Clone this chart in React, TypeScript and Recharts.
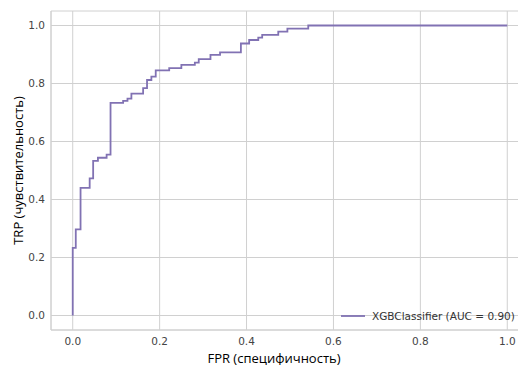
import React from "react";
import { LineChart, Line, XAxis, YAxis, CartesianGrid } from "recharts";

// ROC curve corner points (top of each vertical jump), step-after
const fpr = [0, 0, 0.007, 0.018, 0.039, 0.047, 0.058, 0.078, 0.087, 0.116, 0.126, 0.135, 0.162, 0.171, 0.181, 0.191, 0.222, 0.25, 0.281, 0.29, 0.317, 0.339, 0.387, 0.406, 0.427, 0.436, 0.473, 0.494, 0.542, 1.0];
const tpr = [0, 0.233, 0.297, 0.44, 0.473, 0.533, 0.544, 0.555, 0.733, 0.74, 0.748, 0.765, 0.784, 0.812, 0.824, 0.845, 0.853, 0.864, 0.872, 0.884, 0.899, 0.907, 0.938, 0.95, 0.958, 0.968, 0.979, 0.989, 1.0, 1.0];
const ticks = [0, 0.2, 0.4, 0.6, 0.8, 1.0];
const seriesName = "XGBClassifier (AUC = 0.90)";
const xLabel = "FPR (специфичность)";
const yLabel = "TRP (чувствительность)";

const data = fpr.map((f, i) => ({ fpr: f, tpr: tpr[i] }));

const LINE = "#8172B3";
const GRID = "#d0d0d0";
const TICK = { fill: "#444", fontSize: 10.5, fontFamily: "DejaVu Sans" };
const LABEL_FONT = "'Open Sans', 'Noto Sans', sans-serif";

export default function App() {
  return (
    <div style={{ position: "fixed", left: 0, top: 0, width: 518, height: 365, overflow: "hidden", background: "#fff" }}>
      <div style={{ position: "absolute", left: 0, top: 0 }}>
        <LineChart width={560} height={365} data={data} margin={{ top: 11, right: 31, left: 7, bottom: 0 }}>
          <CartesianGrid stroke={GRID} strokeWidth={1} />
          <XAxis
            dataKey="fpr"
            type="number"
            domain={[-0.05, 1.05]}
            ticks={ticks}
            allowDataOverflow
            tickFormatter={(v: number) => v.toFixed(1)}
            tick={TICK}
            tickLine={false}
            tickSize={0}
            tickMargin={8}
            height={35}
            axisLine={{ stroke: GRID }}
            label={(p: any) => {
              const vb = p.viewBox || {};
              return (
                <text x={vb.x + vb.width / 2 - 16} y={362.5} textAnchor="middle" fontFamily={LABEL_FONT} fontSize={13} fill="#000">
                  {xLabel}
                </text>
              );
            }}
          />
          <XAxis xAxisId="top" orientation="top" type="number" domain={[-0.05, 1.05]} tick={false} tickLine={false} height={0} axisLine={{ stroke: GRID }} />
          <YAxis
            type="number"
            domain={[-0.05, 1.05]}
            ticks={ticks}
            allowDataOverflow
            tickFormatter={(v: number) => v.toFixed(1)}
            tick={TICK}
            tickLine={false}
            tickSize={0}
            tickMargin={6}
            width={44}
            axisLine={{ stroke: GRID }}
            label={(p: any) => {
              const vb = p.viewBox || {};
              const cy = vb.y + vb.height / 2;
              return (
                <text x={18} y={cy} transform={`rotate(-90, 18, ${cy})`} textAnchor="middle" dominantBaseline="central" fontFamily={LABEL_FONT} fontSize={13} fill="#000">
                  {yLabel}
                </text>
              );
            }}
          />
          <Line dataKey="tpr" type="stepAfter" stroke={LINE} strokeWidth={1.8} dot={false} isAnimationActive={false} />
        </LineChart>
      </div>
      <div style={{ position: "absolute", left: 341, top: 309, display: "flex", alignItems: "center", fontFamily: "DejaVu Sans", fontSize: 10.5, color: "#333", whiteSpace: "nowrap" }}>
        <svg width={24} height={14} style={{ display: "block" }}>
          <line x1={0} y1={7} x2={24} y2={7} stroke={LINE} strokeWidth={1.8} />
        </svg>
        <span style={{ marginLeft: 7 }}>{seriesName}</span>
      </div>
    </div>
  );
}
